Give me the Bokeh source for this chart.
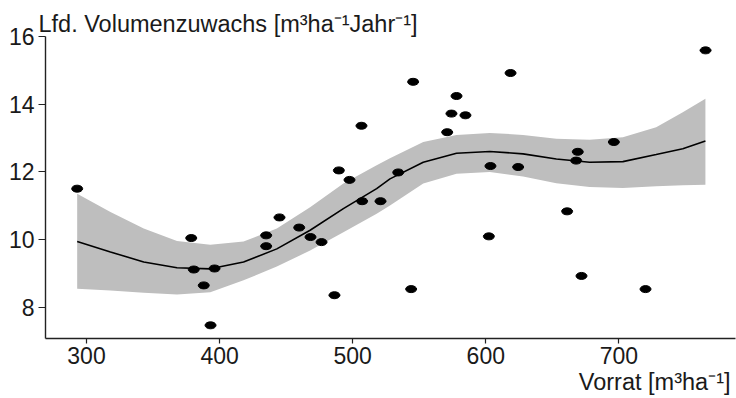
from bokeh.plotting import figure
from bokeh.models import ColumnDataSource, Range1d, Title, FixedTicker
from bokeh.embed import file_html
from bokeh.resources import INLINE

# observed points: stock (Vorrat) vs. current volume increment
vorrat = [293, 378.7, 380.6, 388.1, 393.2, 396.2, 435, 435, 445, 459.8, 468.3, 476.6,
          486.3, 489.6, 497.6, 506.6, 507.1, 520.9, 534.2, 543.9, 545.4, 571, 574.2,
          578, 584.7, 602.3, 603.5, 618.6, 624.3, 661.1, 667.9, 669.1, 671.9, 696.2,
          720, 765.1]
zuwachs = [11.50, 10.04, 9.11, 8.64, 7.46, 9.14, 10.12, 9.80, 10.65, 10.35, 10.07, 9.92,
           8.35, 12.04, 11.76, 13.36, 11.13, 11.13, 11.98, 8.53, 14.66, 13.17, 13.72,
           14.24, 13.67, 10.09, 12.17, 14.92, 12.14, 10.83, 12.33, 12.59, 8.92, 12.88,
           8.53, 15.59]

# smooth fit and confidence band
fit_x = [293, 318, 343, 368, 393, 418, 443, 468, 493, 518, 528, 553, 578, 603, 628,
         653, 678, 703, 728, 748, 765]
fit_y = [9.94, 9.63, 9.33, 9.16, 9.13, 9.33, 9.72, 10.27, 10.91, 11.50, 11.79, 12.28,
         12.55, 12.60, 12.53, 12.38, 12.28, 12.30, 12.51, 12.68, 12.91]
fit_upper = [11.35, 10.81, 10.32, 9.95, 9.84, 9.94, 10.32, 10.95, 11.65, 12.19, 12.40,
             12.88, 13.09, 13.15, 13.09, 12.98, 12.95, 13.02, 13.32, 13.76, 14.16]
fit_lower = [8.54, 8.49, 8.42, 8.37, 8.44, 8.79, 9.20, 9.67, 10.21, 10.76, 11.00,
             11.65, 11.94, 11.99, 11.86, 11.66, 11.55, 11.52, 11.57, 11.60, 11.62]

x_ticks = [300, 400, 500, 600, 700]
y_ticks = [8, 10, 12, 14, 16]
y_title = "Lfd. Volumenzuwachs [m\u00b3ha\u207b\u00b9Jahr\u207b\u00b9]"
x_title = "Vorrat [m\u00b3ha\u207b\u00b9]"

FONT = "Liberation Sans"
FS = "23px"
TXT = "#1a1a1a"

x0, x1 = 269.2, 787.6
y0, y1 = 7.07, 16.0

p = figure(width=736, height=398, output_backend="svg", toolbar_location=None,
           x_range=Range1d(x0, x1), y_range=Range1d(y0, y1),
           min_border_left=45, min_border_right=1, min_border_top=36,
           min_border_bottom=60)
p.outline_line_color = None
p.xgrid.visible = False
p.ygrid.visible = False
p.background_fill_color = "white"
p.border_fill_color = "white"

band = ColumnDataSource(dict(x=fit_x, lo=fit_lower, hi=fit_upper, y=fit_y))
p.varea(x="x", y1="lo", y2="hi", source=band, fill_color="#BEBEBE", fill_alpha=1.0)
p.line(x="x", y="y", source=band, line_color="black", line_width=1.6)

pts = ColumnDataSource(dict(x=vorrat, y=zuwachs))
p.ellipse(x="x", y="y", width=11, height=7, width_units="screen",
          height_units="screen", source=pts, fill_color="black", line_color="black")

for ax in (p.xaxis[0], p.yaxis[0]):
    ax.axis_line_color = "#222222"
    ax.axis_line_width = 1.4
    ax.major_tick_line_color = "#222222"
    ax.major_tick_line_width = 1.2
    ax.major_tick_in = 0
    ax.minor_tick_line_color = None
    ax.major_label_text_font = FONT
    ax.major_label_text_font_size = FS
    ax.major_label_text_color = TXT

p.xaxis.ticker = FixedTicker(ticks=x_ticks)
p.yaxis.ticker = FixedTicker(ticks=y_ticks)
p.xaxis.major_tick_out = 5
p.xaxis.major_label_standoff = 3
p.yaxis.major_tick_out = 7
p.yaxis.major_label_standoff = 4

p.add_layout(Title(text=y_title, align="left", offset=-7, standoff=0,
                   text_font=FONT, text_font_size="23.5px", text_font_style="normal",
                   text_color=TXT), "above")
p.add_layout(Title(text=x_title, align="right", offset=5, standoff=0,
                   text_font=FONT, text_font_size="23.5px", text_font_style="normal",
                   text_color=TXT), "below")

open("out.html", "w").write(file_html(p, INLINE))
